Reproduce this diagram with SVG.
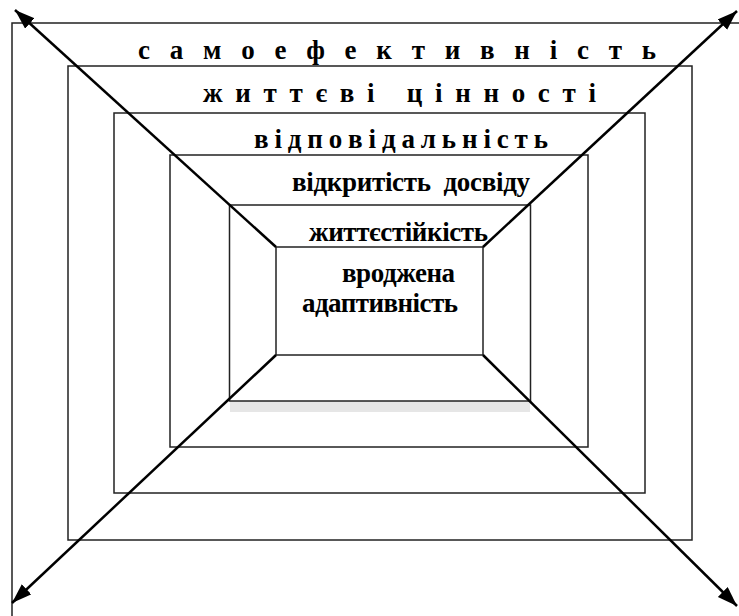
<svg xmlns="http://www.w3.org/2000/svg" width="739" height="616" viewBox="0 0 739 616">
<style>
.frame{fill:none;stroke:#222;stroke-width:1.5}
.lbl{font-family:"Liberation Serif","Times New Roman",serif;font-weight:bold;font-size:27px;fill:#000;white-space:pre}
.diag{stroke:#000;stroke-width:2.5;fill:none;marker-end:url(#ah)}
</style>
<defs>
<marker id="ah" markerUnits="userSpaceOnUse" markerWidth="22" markerHeight="16" refX="20" refY="7" orient="auto">
<path d="M0,0 L20,7 L0,14 z" fill="#000"/>
</marker>
</defs>
<rect width="739" height="616" fill="#fff"/>
<g id="layer1">
<rect class="frame" x="12" y="23" width="760" height="640"/>
<text class="lbl" x="138" y="59" textLength="518" lengthAdjust="spacing" xml:space="preserve">с а м о е ф е к т и в н і с т ь</text>
</g>
<g id="layer2">
<rect class="frame" x="68" y="66" width="624" height="474"/>
<text class="lbl" x="203" y="102" textLength="393" lengthAdjust="spacing" xml:space="preserve">ж и т т є в і   ц і н н о с т і</text>
</g>
<g id="layer3">
<rect class="frame" x="114" y="113" width="531" height="380"/>
<text class="lbl" x="254" y="148" textLength="294" lengthAdjust="spacing" xml:space="preserve">в і д п о в і д а л ь н і с т ь</text>
</g>
<g id="layer4">
<rect class="frame" x="170" y="155" width="418" height="292"/>
<text class="lbl" x="292" y="191" textLength="238" lengthAdjust="spacing" xml:space="preserve">відкритість  досвіду</text>
</g>
<g id="layer5">
<rect x="230" y="401" width="300" height="11" fill="#e6e6e6"/>
<rect class="frame" x="229.5" y="205" width="301" height="196"/>
<text class="lbl" x="309" y="241" textLength="179" lengthAdjust="spacing">життєстійкість</text>
</g>
<g id="core">
<rect class="frame" x="276" y="247" width="207" height="108"/>
<text class="lbl" x="342" y="282" textLength="113" lengthAdjust="spacing">вроджена</text>
<text class="lbl" x="302" y="312" textLength="156" lengthAdjust="spacing">адаптивність</text>
</g>
<g id="connectors">
<line class="diag" x1="276" y1="247" x2="15" y2="10"/>
<line class="diag" x1="483" y1="247" x2="737" y2="11"/>
<line class="diag" x1="276" y1="355" x2="12" y2="603"/>
<line class="diag" x1="483" y1="355" x2="737" y2="606"/>
</g>
</svg>
